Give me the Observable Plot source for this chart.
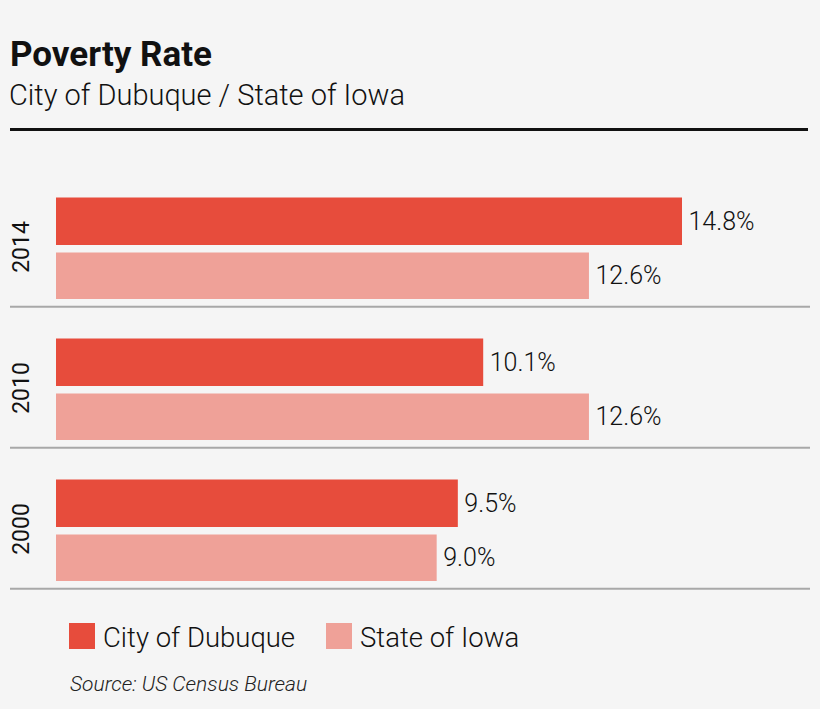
<!DOCTYPE html>
<html>
<head>
<meta charset="utf-8">
<script src="https://cdn.jsdelivr.net/npm/d3@7"></script>
<script src="https://cdn.jsdelivr.net/npm/@observablehq/plot@0.6"></script>
<style>
  html, body { margin: 0; padding: 0; background: #f5f5f5; }
  body { width: 820px; height: 709px; position: relative; overflow: hidden; font-family: Roboto, "Open Sans", sans-serif; color: #111; }
  .abs { position: absolute; white-space: nowrap; }
  #title { left: 10px; top: 37px; font-size: 35px; line-height: 35px; font-weight: 700; }
  #subtitle { left: 9px; top: 81px; font-size: 29px; line-height: 29px; font-weight: 300; }
  #rule { left: 10px; top: 128px; width: 798px; height: 3px; background: #111; }
  #chart { left: 0; top: 131px; }
  .sw { width: 26px; height: 26px; }
  .lt { font-size: 27.5px; line-height: 27.5px; font-weight: 300; }
  #source { left: 70px; top: 674px; font-size: 21px; line-height: 21px; font-style: italic; font-weight: 300; color: #222; }
</style>
</head>
<body>
<div id="title" class="abs">Poverty Rate</div>
<div id="subtitle" class="abs">City of Dubuque / State of Iowa</div>
<div id="rule" class="abs"></div>
<div id="chart" class="abs"></div>
<div id="legend"></div>
<div id="source" class="abs">Source: US Census Bureau</div>
<script>
const years = ["2014", "2010", "2000"];
const series = ["City of Dubuque", "State of Iowa"];
const dubuque = [14.8, 10.1, 9.5];
const iowa = [12.6, 12.6, 9.0];
const colors = ["#e74c3c", "#efa198"];

const rows = years.flatMap((y, i) => [
  {year: y, series: series[0], value: dubuque[i]},
  {year: y, series: series[1], value: iowa[i]}
]);
const city = rows.filter(d => d.series === series[0]);
const state = rows.filter(d => d.series === series[1]);

const H = 469, MT = 33.5, MB = 11;
const bw = (H - MT - MB) / years.length;
const fmt = d => d.value.toFixed(1) + "%";

const chart = Plot.plot({
  width: 820,
  height: H,
  marginTop: MT,
  marginBottom: MB,
  marginLeft: 10,
  marginRight: 10,
  style: {background: "transparent", fontFamily: "Roboto, 'Open Sans', sans-serif", color: "#111"},
  x: {domain: [0, d3.max(dubuque.concat(iowa))], range: [56, 682], axis: null},
  y: {domain: years, padding: 0, axis: null},
  color: {domain: series, range: colors},
  marks: [
    Plot.ruleY(years, {y: d => d, dy: bw / 2, stroke: "#a8a8a8", strokeWidth: 2}),
    Plot.barX(city, {y: "year", x: "value", fill: "series", insetTop: 32.5, insetBottom: 61}),
    Plot.barX(state, {y: "year", x: "value", fill: "series", insetTop: 87.5, insetBottom: 7}),
    Plot.text(city, {y: "year", x: "value", text: fmt, dx: 6, dy: -14.25, textAnchor: "start", fontSize: 25, fontWeight: 300, fill: "#111"}),
    Plot.text(state, {y: "year", x: "value", text: fmt, dx: 6, dy: 40.25, textAnchor: "start", fontSize: 25, fontWeight: 300, fill: "#111"}),
    Plot.text(years, {y: d => d, frameAnchor: "left", textAnchor: "middle", text: d => d, rotate: -90, dx: 11, dy: 11, fontSize: 23, fontWeight: 400, fill: "#111"})
  ]
});
document.getElementById("chart").appendChild(chart);

// legend built from the series / colors arrays
const legend = document.getElementById("legend");
const pos = [69, 326];
series.forEach((s, i) => {
  const sw = document.createElement("div");
  sw.className = "abs sw";
  sw.style.left = pos[i] + "px";
  sw.style.top = "623px";
  sw.style.background = colors[i];
  legend.appendChild(sw);
  const t = document.createElement("div");
  t.className = "abs lt";
  t.style.left = (pos[i] + 34) + "px";
  t.style.top = "624px";
  t.textContent = s;
  legend.appendChild(t);
});
</script>
</body>
</html>
